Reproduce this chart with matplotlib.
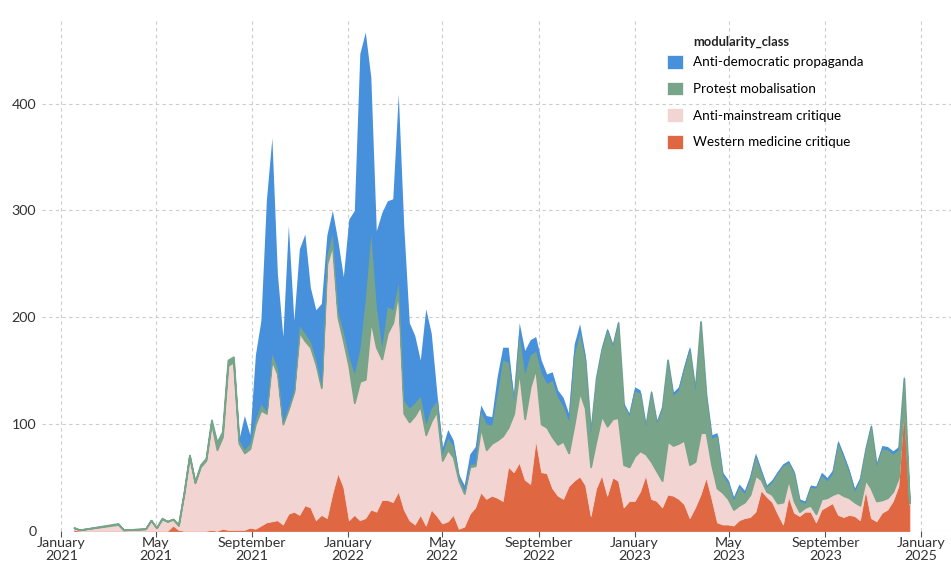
import numpy as np
import matplotlib
matplotlib.use("Agg")
import matplotlib.pyplot as plt
from matplotlib.patches import Patch

plt.rcParams['font.family'] = ['Lato', 'DejaVu Sans']

# weekly counts per modularity class, week offsets from 2021-01-17
start = np.datetime64("2021-01-17")
weeks = [0, 1, 8, 9] + list(range(13, 153))

west = [1, 0, 0, 0,
        0, 0, 0, 0, 0, 5, 1,
        0, 0, 0, 0, 0, 1, 0, 2, 1, 1,
        1, 1, 3, 2, 5, 8, 9, 10, 6, 16,
        18, 15, 24, 22, 10, 15, 12, 35, 54, 41,
        10, 15, 10, 12, 20, 18, 29, 29, 27, 37,
        20, 10, 6, 15, 5, 20, 14, 7, 9, 15,
        2, 4, 16, 22, 36, 30, 33, 31, 28, 60,
        55, 64, 48, 44, 85, 55, 54, 40, 33, 30,
        42, 47, 51, 43, 14, 40, 52, 33, 50, 47,
        22, 28, 28, 37, 52, 30, 28, 22, 34, 33,
        30, 25, 12, 22, 34, 50, 30, 8, 6, 6,
        5, 10, 12, 13, 18, 38, 32, 27, 16, 6,
        32, 17, 14, 18, 18, 8, 20, 23, 26, 15,
        13, 15, 14, 10, 38, 12, 9, 17, 20, 28,
        42, 116, 25]

mainstream = [2, 1, 6, 1,
              2, 10, 3, 11, 9, 6, 4,
              35, 70, 45, 60, 66, 100, 76, 86, 154, 157,
              81, 72, 74, 98, 108, 102, 151, 137, 94, 98,
              112, 171, 154, 150, 146, 119, 238, 233, 146, 137,
              144, 105, 130, 130, 177, 154, 132, 156, 168, 188,
              90, 92, 102, 102, 85, 83, 98, 59, 67, 54,
              45, 31, 44, 39, 61, 46, 49, 54, 61, 37,
              55, 86, 57, 91, 67, 45, 43, 48, 48, 54,
              31, 53, 79, 72, 46, 45, 56, 65, 55, 59,
              40, 32, 42, 38, 20, 35, 28, 25, 50, 47,
              52, 60, 50, 43, 58, 42, 32, 32, 30, 24,
              15, 14, 15, 21, 34, 10, 5, 7, 10, 21,
              16, 11, 4, 4, 6, 8, 10, 8, 8, 21,
              20, 16, 13, 14, 10, 28, 19, 12, 11, 9,
              8, 3, 1]

protest = [0, 0, 1, 0,
           0, 0, 0, 1, 0, 0, 1,
           1, 1, 1, 2, 2, 3, 7, 5, 5, 5,
           3, 3, 5, 4, 6, 2, 6, 5, 2, 2,
           2, 6, 7, 5, 4, 3, 8, 10, 5, 8,
           9, 27, 30, 75, 81, 38, 11, 25, 12, 7,
           12, 13, 12, 9, 10, 12, 10, 6, 11, 10,
           3, 2, 2, 2, 15, 24, 17, 43, 71, 61,
           12, 33, 42, 30, 16, 48, 41, 53, 44, 33,
           30, 65, 55, 45, 32, 58, 62, 90, 68, 89,
           56, 48, 61, 54, 26, 65, 45, 68, 76, 47,
           50, 67, 108, 67, 104, 35, 25, 49, 16, 15,
           9, 17, 8, 15, 18, 7, 4, 12, 28, 34,
           16, 26, 10, 4, 17, 24, 22, 16, 20, 46,
           36, 24, 10, 24, 28, 58, 33, 48, 45, 35,
           26, 24, 1]

antidem = [0, 0, 0, 0,
           0, 0, 0, 0, 0, 0, 0,
           0, 0, 0, 0, 0, 0, 0, 0, 0, 0,
           1, 32, 8, 61, 78, 198, 202, 89, 80, 170,
           65, 72, 93, 51, 47, 76, 19, 22, 67, 52,
           129, 153, 277, 250, 147, 71, 126, 99, 104, 177,
           163, 80, 63, 34, 108, 70, 8, 6, 8, 6,
           3, 6, 10, 16, 6, 8, 8, 17, 12, 14,
           3, 12, 22, 14, 14, 12, 9, 8, 7, 8,
           7, 10, 9, 5, 3, 2, 2, 2, 2, 2,
           2, 2, 4, 3, 2, 2, 2, 2, 2, 3,
           3, 3, 3, 3, 2, 3, 3, 3, 3, 3,
           3, 3, 3, 3, 3, 3, 2, 2, 2, 2,
           2, 2, 2, 2, 2, 2, 3, 3, 3, 3,
           3, 3, 3, 2, 2, 2, 2, 3, 3, 3,
           3, 3, 0]

labels = ["Western medicine critique", "Anti-mainstream critique",
          "Protest mobalisation", "Anti-democratic propaganda"]
colors = ["#df6741", "#f2d5d2", "#78a589", "#4690dc"]
edge_w = [0.6, 0.6, 1.3, 0.0]

tick_dates = ["2021-01-01", "2021-05-01", "2021-09-01", "2022-01-01", "2022-05-01",
              "2022-09-01", "2023-01-01", "2023-05-01", "2023-09-01", "2024-01-01"]
tick_labels = ["January\n2021", "May\n2021", "September\n2021", "January\n2022",
               "May\n2022", "September\n2022", "January\n2023", "May\n2023",
               "September\n2023", "January\n2025"]

dates = start + np.array(weeks) * np.timedelta64(7, "D")

fig = plt.figure(figsize=(9.51, 5.66), dpi=100)
ax = fig.add_axes([0.044, 0.062, 0.956, 0.902])

polys = ax.stackplot(dates, west, mainstream, protest, antidem, colors=colors)
for p, c, lw in zip(polys, colors, edge_w):
    p.set_edgecolor(c)
    p.set_linewidth(lw)

ax.set_xlim(np.datetime64("2020-12-07"), np.datetime64("2024-02-08"))
ax.set_ylim(0, 478)
ax.set_yticks([0, 100, 200, 300, 400])
ax.set_xticks(np.array(tick_dates, dtype="datetime64[D]"))
ax.set_xticklabels(tick_labels, linespacing=1.05)

ax.grid(True, color="#cccccc", linestyle=(0, (3, 3)), linewidth=0.8)
ax.set_axisbelow(True)
for s in ax.spines.values():
    s.set_visible(False)
ax.tick_params(axis="y", length=0, labelsize=10.3, labelcolor="#333333", pad=4)
ax.tick_params(axis="x", length=4, color="#555555", labelsize=10.3,
               labelcolor="#333333", pad=0.5)

handles = [Patch(facecolor=c, edgecolor="white", linewidth=0.5) for c in colors[::-1]]
leg = ax.legend(handles, labels[::-1], loc="upper left", bbox_to_anchor=(667 / 951, 1 - 55 / 566),
                bbox_transform=fig.transFigure, frameon=False, fontsize=9.7,
                handlelength=1.2, handleheight=1.2, handletextpad=0.7, labelspacing=0.95,
                borderaxespad=0, borderpad=0)
fig.text(693 / 951, 1 - 42 / 566, "modularity_class", fontsize=9.3, fontweight="bold",
         color="#222222", va="center", ha="left")

fig.savefig("out.png", dpi=100)
